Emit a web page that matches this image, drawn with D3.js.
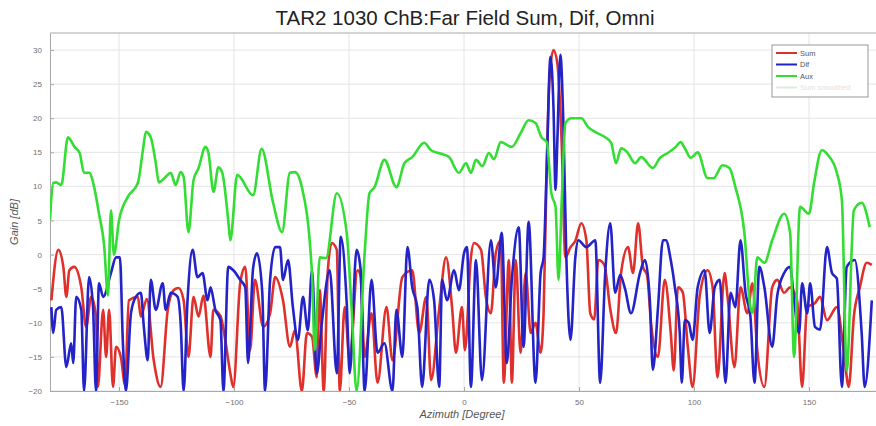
<!DOCTYPE html>
<html>
<head>
<meta charset="utf-8">
<script src="https://cdn.jsdelivr.net/npm/d3@7"></script>
<style>
  body { margin: 0; background: #fff; }
  text { font-family: "Liberation Sans", Arial, sans-serif; }
</style>
</head>
<body>
<script>
// azimuth [deg], gain [dB]
var sumSeries = [[-179.4,-6.7],[-176.4,0.7],[-174.2,-1.8],[-172.9,-6.2],[-171.6,-2.3],[-169.5,-1.8],[-166.4,-4.8],[-164.3,-10.6],[-162.1,-6.2],[-160,-9.1],[-159.2,-19.4],[-156.9,-8.1],[-155.6,-15],[-154.3,-8.1],[-152.6,-19.4],[-151.3,-13.5],[-149.2,-15],[-147.4,-19],[-145.7,-6.7],[-141.8,-6.2],[-140.5,-9.1],[-137.9,-6.5],[-134.9,-15.5],[-131.9,-19.4],[-128.8,-8.1],[-126.2,-5.2],[-124.1,-4.9],[-121.9,-6.7],[-119.8,-15],[-117.6,-6.2],[-115.4,-9.1],[-113.3,-6],[-110.2,-15],[-109,-8.1],[-105.9,-9],[-103.8,-12.5],[-101.6,-17.4],[-100.3,-19.4],[-97.3,-4.2],[-95.1,-1.8],[-93,-14],[-90.9,-3.7],[-87.3,-10.6],[-84.3,-8.6],[-82.1,-3.3],[-78.7,-6.7],[-75.7,-13.5],[-73.5,-11.1],[-70.5,-20],[-68.3,-11.5],[-66.1,-12],[-64,-18],[-62.7,-5.2],[-61,-20],[-59.2,-2.3],[-57.5,1.7],[-55.3,0.7],[-54,-20],[-51.9,-7.7],[-49.7,-15.5],[-46.3,-2.3],[-45,-3],[-43.2,-15],[-40.2,-8.6],[-37.6,-18.8],[-33.7,-7.7],[-31.1,-15.5],[-26.8,-3.3],[-22.5,-2.3],[-19.5,-11.5],[-16.4,-6.2],[-14.3,-18.4],[-10.8,-8],[-7.8,-0.4],[-5.2,-7.7],[-3.5,-14.4],[-0.9,-7.7],[0.4,-14],[3,-0.4],[4.3,1.7],[7.4,0.7],[9.5,-6.2],[11.7,-8.6],[13.8,0.2],[16,2.1],[17.3,-18.8],[19.5,-0.8],[20.8,-18.8],[22.5,-0.8],[24.6,-14.4],[26.8,-2.7],[29,-11.5],[31.1,-10],[33.3,-14.4],[34.6,-8.6],[35.9,12],[37.2,26],[38.9,30],[40.6,28],[42.4,17],[44.1,-0.4],[46.3,1.1],[48.4,2],[51,4.6],[53.2,2.1],[54.9,-8.6],[56.6,-9.5],[58.4,-0.8],[61,-1.5],[63.6,-8],[66.1,-11.5],[68.3,-2.7],[71.3,1.1],[73.5,-2.7],[75.7,4.6],[77.8,-1.8],[79.6,-3],[81.3,-10],[84.3,-15],[87.3,-3.7],[89.9,-11.5],[91.2,-17],[93,-4.8],[95.1,-5.5],[97.3,-13.5],[99.4,-19.4],[102.5,-6],[105.9,-2.3],[108.1,-4.8],[110.2,-18],[113.3,-2.7],[114.6,-6.2],[117.6,-16.5],[120.2,-4.8],[123.2,-8.6],[125.4,-4.2],[127.5,-14],[130.6,-19.4],[134,-4.8],[136.2,-3.7],[139.2,-5.6],[141.8,-4.8],[144.8,-6.7],[147,-19.4],[149.2,-7.7],[152.6,-7.1],[154.8,-6.2],[157.8,-9.6],[162.1,-7.7],[165.2,-14.4],[167.3,-19.4],[169.5,-9.1],[172.1,-4.8],[175.1,-1.2],[177.3,-1.5]];

var difSeries = [[-179.4,-7.7],[-178.6,-11.5],[-177.3,-8.1],[-175.1,-7.7],[-172.9,-16.5],[-170.8,-13],[-169.9,-15.9],[-168.6,-6.2],[-166.4,-8.1],[-165.2,-20],[-163,-3.3],[-161.3,-7.7],[-160,-20],[-158.7,-4.2],[-156.9,-6.2],[-153.5,-2.7],[-151.3,-0.4],[-149.6,-0.4],[-148.3,-13],[-147,-20],[-144.8,-8.6],[-142.7,-6.2],[-140.5,-5.6],[-139.2,-10.6],[-137.5,-15.5],[-136.2,-3.7],[-134,-8.1],[-131,-4.2],[-129.7,-8.1],[-127.5,-5.6],[-124.5,-6.2],[-123.2,-10],[-121.9,-20],[-120.2,-6.7],[-118,0.7],[-115.9,-3.3],[-113.7,-2.7],[-111.5,-6.7],[-110.2,-4.8],[-108.1,-8.1],[-105.9,-9.6],[-104.6,-20],[-102.5,-1.8],[-100.3,-2.3],[-97.3,-3.7],[-95.1,-4.8],[-93.9,-15.9],[-91.7,-2],[-90,0.2],[-87.7,-5.6],[-86.5,-20],[-84.3,-3.7],[-82.1,1.1],[-80,1.1],[-78.7,-3.7],[-76.5,-0.8],[-74.4,-7.7],[-72.2,-12.5],[-70,-6.2],[-67.9,-11.1],[-66.1,-2.3],[-64,-17.4],[-61.8,-10],[-58.4,-2.3],[-55.3,-17.4],[-53.6,2.6],[-51,-7.1],[-49.7,-17.4],[-46.7,0.7],[-45,-2],[-43.2,-20],[-40.2,-3.7],[-37.6,-14.4],[-34.6,-13],[-31.1,-20],[-29.4,-8.1],[-26.8,-15],[-24.6,1.1],[-22.5,-4.8],[-20.3,-7.7],[-18.2,-19.4],[-15.1,-3.7],[-13,-6.7],[-10.8,-19.4],[-9.5,-3.7],[-7.4,-6.7],[-4.3,-2.3],[-2.2,-5.2],[0,0.2],[1.3,1.1],[3,-19.4],[5.2,-0.8],[7.8,-18.4],[11.7,2.1],[13.8,-4.8],[16.4,3.2],[18.6,-15.9],[20.8,-3.7],[23.8,4],[25.9,-13.5],[28.1,4.8],[31.1,-18.8],[33.3,-2.7],[34.6,-0.4],[35.9,12],[37.6,29],[38.9,21.6],[39.8,9.5],[40.6,16.8],[41.9,29.3],[43.2,19.3],[44.5,-0.4],[46.3,-12.5],[48.4,-0.4],[49.7,2.1],[53.2,1.1],[57.1,2.1],[59.2,-18.8],[61.4,-2.7],[63.6,4.6],[65.7,-5.6],[67.9,-3],[70,-5],[72.6,-8.6],[76.5,-2.7],[78.7,-0.8],[80.8,-6.7],[82.1,-16.9],[84.3,-8],[86.5,2.1],[87.8,2.1],[89.9,-0.8],[91.7,-4.8],[93.8,-11.5],[94.7,-18.8],[96,-9.6],[97.7,-10],[99.4,-12.5],[101.6,-4.8],[104.6,-2.3],[106.8,-11.5],[109,-4.8],[111.2,-3.7],[113.7,-18.8],[115.9,-5.6],[118,-7.7],[120.2,2.1],[122.4,-5.6],[124.5,-9],[126.3,-18.8],[128.4,-1.8],[130.6,-4.8],[134,-13.5],[136.2,-6],[139.2,-2.7],[141.8,-1.8],[143.5,-6.7],[145.7,-11.5],[147,-4.2],[149.2,-8.6],[150.5,-4.2],[152.6,-10.6],[154.8,-11],[157.8,1.1],[160,-2.7],[162.1,-3.5],[164.3,-19.4],[166.4,-1.8],[169.9,-0.8],[172.9,-11.5],[174.2,-19.4],[177.3,-6.7]];

var auxSeries = [[-180,5.1],[-178.6,10.5],[-177.3,10.6],[-175.1,10.2],[-172.2,17.2],[-169.3,15.8],[-167.1,14.9],[-165.2,12],[-163,12],[-160.8,9.9],[-158.7,6],[-156.5,1.5],[-154.8,-6],[-153.5,6.5],[-152.2,0],[-150,5],[-146.1,8.5],[-141.8,10.5],[-139.6,15.3],[-138.3,18],[-136.2,17.2],[-134,13.4],[-132.7,10.6],[-129.7,11.4],[-127.5,12],[-125.4,10.2],[-123.2,12.1],[-121.9,11.4],[-119.8,3.3],[-117.6,10.9],[-115.4,12.7],[-112.4,15.8],[-111.1,14.9],[-108.9,9.2],[-106.8,12.8],[-105.1,12],[-102.5,5],[-101.6,2.1],[-98.6,11.7],[-91.7,8.7],[-88,15.5],[-83,7.6],[-79.1,3.3],[-75.7,12],[-73.5,12.1],[-70.5,9.9],[-66.1,-2.7],[-64.9,-14],[-62.7,-0.4],[-60,-0.5],[-55.3,9],[-51,3.2],[-48.9,-7.7],[-46.7,-20],[-43.2,0.2],[-41.1,9],[-38.9,9.9],[-34.6,13.9],[-29.4,9.9],[-25.9,13.4],[-22.5,14.3],[-17.3,16.4],[-14.3,15.3],[-10,14.8],[-6.5,14.3],[-2.2,12],[0.9,13.4],[3,12],[5.2,13.9],[8,13],[10.8,14.9],[13,14],[16,16.5],[20.8,15.8],[24.6,17.8],[28.1,19.7],[31.1,19.3],[33.7,17.2],[36,16.5],[38,9],[39.8,7],[41.1,-3.7],[42.5,8],[44.1,19.3],[46.7,20],[51,20],[54,18.7],[57,18],[61.4,17.2],[64,16.4],[66.1,13.4],[68.3,15.6],[71,15],[74.4,13.4],[77,14.3],[82.1,12.7],[85.2,14.2],[88.6,14.9],[92.1,15.8],[94.2,16.5],[96,15.6],[98.6,14.2],[101.6,15],[105.9,11.2],[108.5,11.2],[112.4,13.1],[115.4,12.7],[118,9.9],[121.9,3.2],[124.5,-7.7],[125.5,-8.5],[127.5,-0.4],[130.6,-1.2],[134,2.1],[139.2,6],[141.8,3.2],[143.5,-15],[146.1,7],[150,6],[152.2,10.5],[155.6,15.3],[158.5,14.5],[162.1,12],[164.3,8],[166.4,-17],[169.5,6.5],[172.9,7.6],[176.4,4]];

var xTicks = [-150, -100, -50, 0, 50, 100, 150];
var yTicks = [-20, -15, -10, -5, 0, 5, 10, 15, 20, 25, 30];
var legendNames = ["Sum", "Dif", "Aux", "Sum smoothed"];
var legendColors = ["#e0302c", "#2323c8", "#33dd33", "#dfeadf"];

var width = 876, height = 426;
var plot = {left: 50, right: 878, top: 33, bottom: 391};

var x = d3.scaleLinear().domain([-180, 180]).range([plot.left, plot.right]);
var y = d3.scaleLinear().domain([-20, 32.5]).range([plot.bottom, plot.top]);

var svg = d3.select("body").append("svg")
    .attr("width", width)
    .attr("height", height);

svg.append("defs").append("clipPath")
    .attr("id", "clip")
  .append("rect")
    .attr("x", plot.left)
    .attr("y", plot.top)
    .attr("width", plot.right - plot.left)
    .attr("height", plot.bottom - plot.top);

// grid
var grid = svg.append("g").attr("stroke", "#e4e4e4").attr("stroke-width", 1);
grid.selectAll(".gx").data(xTicks).enter().append("line")
    .attr("x1", function(d) { return x(d); })
    .attr("x2", function(d) { return x(d); })
    .attr("y1", plot.top).attr("y2", plot.bottom);
grid.selectAll(".gy").data(yTicks).enter().append("line")
    .attr("y1", function(d) { return y(d); })
    .attr("y2", function(d) { return y(d); })
    .attr("x1", plot.left).attr("x2", plot.right);

// axes, ticks pointing inward like matlab
var xAxis = svg.append("g")
    .attr("transform", "translate(0," + plot.bottom + ")")
    .call(d3.axisBottom(x).tickValues(xTicks).tickSizeInner(-4).tickSizeOuter(0).tickPadding(8));
var yAxis = svg.append("g")
    .attr("transform", "translate(" + plot.left + ",0)")
    .call(d3.axisLeft(y).tickValues(yTicks).tickSizeInner(-4).tickSizeOuter(0).tickPadding(8));

[xAxis, yAxis].forEach(function(a) {
  a.select(".domain").attr("stroke", "#a8a8a8");
  a.selectAll(".tick line").attr("stroke", "#a8a8a8");
  a.selectAll(".tick text")
      .attr("fill", "#707070")
      .style("font-size", "8px")
      .style("font-family", "'Liberation Sans', Arial, sans-serif");
});

// top border
svg.append("line")
    .attr("x1", plot.left).attr("x2", plot.right)
    .attr("y1", plot.top).attr("y2", plot.top)
    .attr("stroke", "#a8a8a8");

var line = d3.line()
    .x(function(d) { return x(d[0]); })
    .y(function(d) { return y(d[1]); })
    .curve(d3.curveMonotoneX);

var curves = svg.append("g").attr("clip-path", "url(#clip)");
[[sumSeries, legendColors[0]], [difSeries, legendColors[1]], [auxSeries, legendColors[2]]].forEach(function(s) {
  curves.append("path")
      .datum(s[0])
      .attr("fill", "none")
      .attr("stroke", s[1])
      .attr("stroke-width", 2.6)
      .attr("stroke-linejoin", "round")
      .attr("d", line);
});

// title and labels
svg.append("text")
    .attr("x", 465).attr("y", 25)
    .attr("text-anchor", "middle")
    .style("font-size", "20.5px")
    .attr("fill", "#222")
    .text("TAR2 1030 ChB:Far Field Sum, Dif, Omni");

svg.append("text")
    .attr("x", 462).attr("y", 418)
    .attr("text-anchor", "middle")
    .style("font-size", "11px")
    .style("font-style", "italic")
    .attr("fill", "#555")
    .text("Azimuth [Degree]");

svg.append("text")
    .attr("transform", "translate(18,222) rotate(-90)")
    .attr("text-anchor", "middle")
    .style("font-size", "11px")
    .style("font-style", "italic")
    .attr("fill", "#555")
    .text("Gain [dB]");

// legend
var lg = svg.append("g").attr("transform", "translate(772,45)");
lg.append("rect")
    .attr("width", 96).attr("height", 52)
    .attr("fill", "#fff")
    .attr("stroke", "#999");
var item = lg.selectAll(".item").data(legendNames).enter().append("g")
    .attr("transform", function(d, i) { return "translate(0," + (8 + i * 11.5) + ")"; });
item.append("line")
    .attr("x1", 4).attr("x2", 25)
    .attr("stroke", function(d, i) { return legendColors[i]; })
    .attr("stroke-width", 2);
item.append("text")
    .attr("x", 28).attr("dy", "0.35em")
    .style("font-size", "7.5px")
    .attr("fill", function(d, i) { return i == 3 ? "#e2e2e2" : "#555"; })
    .text(function(d) { return d; });
</script>
</body>
</html>
